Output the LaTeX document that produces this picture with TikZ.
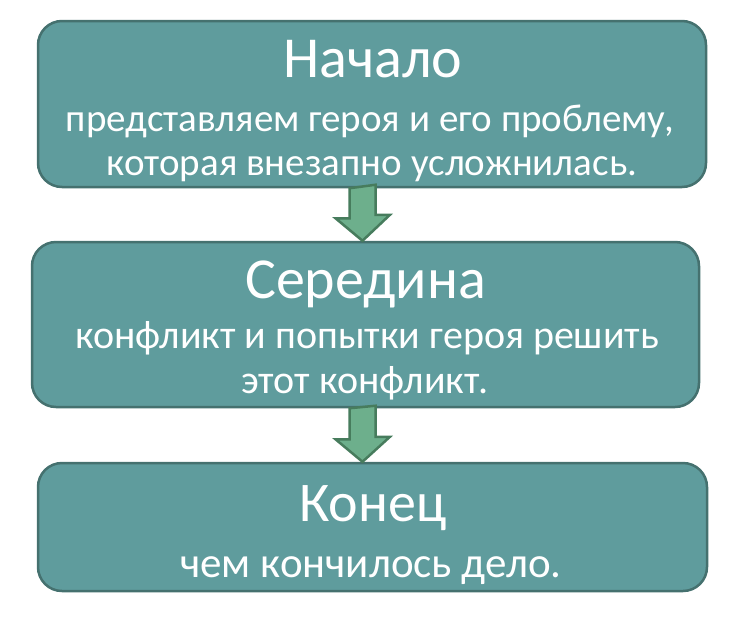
\documentclass[tikz,border=0pt]{standalone}
\usepackage{fontspec}
\setmainfont{Carlito}
\usepackage{tikz}
\usetikzlibrary{calc}
\usepackage{xcolor}
\definecolor{boxteal}{HTML}{5F9C9D}
\definecolor{boxedge}{HTML}{45716F}
\definecolor{arrowgreen}{HTML}{6DAF8C}
\definecolor{arrowedge}{HTML}{477C5D}

\begin{document}
\begin{tikzpicture}[x=1pt, y=-1pt,
    stagebox/.style={draw=boxedge, line width=2.5pt, fill=boxteal, rounded corners=24pt, inner sep=0pt},
    stagetitle/.style={anchor=base, text=white, font=\fontsize{58}{62}\selectfont},
    stagetext/.style={anchor=base, text=white, font=\fontsize{39}{44}\selectfont},
    flowarrow/.style={draw=arrowedge, line width=2.5pt, fill=arrowgreen, line join=miter}]
        \useasboundingbox (0,0) rectangle (738,616);
        \node[stagebox, minimum width=668pt, minimum height=166pt] (start) at (372,104) {}; % Beginning
        \node[stagebox, minimum width=667pt, minimum height=165pt] (middle) at (365.5,324.5) {}; % Middle
        \node[stagebox, minimum width=669pt, minimum height=128pt] (finish) at (372.5,527) {}; % End
        \node[stagetitle] (starttitle) at (373,77) {Начало};
        \node[stagetext] (startline1) at (370,131) {представляем героя и его проблему,};
        \node[stagetext] (startline2) at (372,175) {которая внезапно усложнилась.};
        \node[stagetitle] (middletitle) at (365.5,298) {Середина};
        \node[stagetext, font=\fontsize{40}{44}\selectfont] (middleline1) at (367,348) {конфликт и попытки героя решить};
        \node[stagetext, font=\fontsize{40}{44}\selectfont] (middleline2) at (365,393) {этот конфликт.};
        \node[stagetitle, font=\fontsize{56}{60}\selectfont] (finishtitle) at (373,521) {Конец};
        \node[stagetext, font=\fontsize{43}{48}\selectfont] (finishline) at (371,577) {чем кончилось дело.};
        % block arrows between the stages
        \coordinate (arrow1) at (362.5,0);
        \coordinate (arrow2) at (362.5,0);
        \draw[flowarrow] (start.south -| arrow1) ++(-13,0) -- ++(0,30) -- ++(-14,0)
            -- (middle.north -| arrow1) -- ++(27.5,-26) -- ++(-14.5,0) -- ++(0,-30) -- cycle;
        \draw[flowarrow] (middle.south -| arrow2) ++(-13,0) -- ++(0,31) -- ++(-14,0)
            -- (finish.north -| arrow2) -- ++(27.5,-25) -- ++(-14.5,0) -- ++(0,-31) -- cycle;
    \end{tikzpicture}
\end{document}
